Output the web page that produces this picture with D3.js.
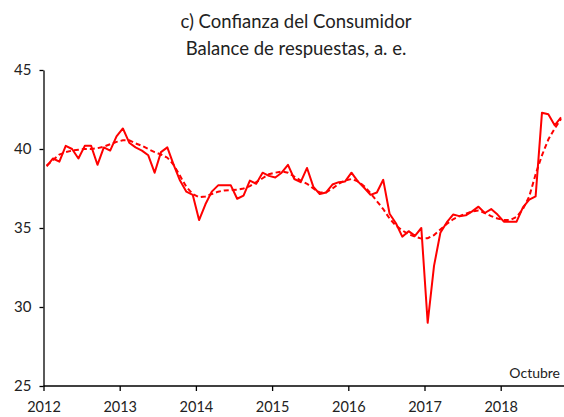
<!DOCTYPE html>
<html>
<head>
  <script src="https://d3js.org/d3.v7.min.js"></script>
  <style>
    body { margin: 0; background: #fff; }
    text { font-family: Lato, "Open Sans", sans-serif; fill: #222; }
  </style>
</head>
<body>
<script type="text/javascript">
  var w = 564;
  var h = 417;

  // data: monthly, Jan 2012 - Oct 2018
  var startYear = 2012;
  var years = [2012, 2013, 2014, 2015, 2016, 2017, 2018];
  var yTicks = [25, 30, 35, 40, 45];
  var endLabel = "Octubre";
  var titleLines = ["c) Confianza del Consumidor", "Balance de respuestas, a. e."];

  var observed = [
    38.9, 39.4, 39.2, 40.2, 40.0, 39.4, 40.2, 40.2, 39.0, 40.1, 39.9, 40.8,
    41.3, 40.4, 40.1, 39.9, 39.6, 38.5, 39.8, 40.1, 39.0, 38.0, 37.3, 37.1,
    35.5, 36.5, 37.3, 37.7, 37.7, 37.7, 36.85, 37.05, 38.0, 37.8, 38.5, 38.3,
    38.2, 38.5, 39.0, 38.1, 37.9, 38.8, 37.6, 37.15, 37.25, 37.75, 37.9, 37.95,
    38.5, 37.95, 37.55, 37.1, 37.25, 38.05, 35.9, 35.3, 34.45, 34.8, 34.5, 35.0,
    29.0, 32.6, 34.7, 35.35, 35.85, 35.75, 35.8, 36.05, 36.35, 35.95, 36.2, 35.85,
    35.4, 35.4, 35.4, 36.3, 36.8, 37.0, 42.3, 42.2, 41.5, 42.0
  ];

  var trend = [
    38.95, 39.3, 39.65, 39.8, 39.9, 39.95, 40.0, 40.0, 40.05, 40.15, 40.3, 40.45,
    40.55, 40.55, 40.35, 40.2, 40.0, 39.8, 39.65, 39.45, 39.0, 38.3, 37.6, 37.15,
    36.95, 37.0, 37.15, 37.3, 37.38, 37.4, 37.43, 37.5, 37.65, 37.9, 38.15, 38.4,
    38.5, 38.58, 38.5, 38.25, 38.0, 37.8, 37.5, 37.25, 37.25, 37.5, 37.8, 38.0,
    38.1, 37.95, 37.65, 37.2, 36.7, 36.2, 35.6, 35.15, 34.85, 34.6, 34.45, 34.33,
    34.35, 34.55, 34.9, 35.25, 35.55, 35.75, 35.9, 36.05, 36.1, 35.95, 35.75, 35.6,
    35.5, 35.5, 35.7, 36.2, 37.0, 38.4, 39.6, 40.6, 41.3, 41.9
  ];

  var plotLeft = 43.5, plotRight = 564, plotTop = 70, plotBottom = 386;

  var svg = d3.select("body").append("svg")
    .attr("width", w)
    .attr("height", h);

  // each month is a category; points sit in the middle of their slot
  var n = observed.length;
  var xScale = d3.scaleLinear()
    .domain([0, n])
    .range([plotLeft, plotLeft + n * 6.35]);

  var yearScale = d3.scaleLinear()
    .domain([startYear, startYear + 1])
    .range([xScale(0), xScale(12)]);

  var yScale = d3.scaleLinear()
    .domain([25, 45])
    .range([plotBottom, plotTop]);

  // title
  svg.selectAll("text.title")
    .data(titleLines)
    .enter()
    .append("text")
    .attr("class", "title")
    .attr("x", 296)
    .attr("y", function(d, i){ return 28 + i * 27; })
    .attr("text-anchor", "middle")
    .attr("font-size", "18.5px")
    .text(function(d){ return d; });

  // y axis
  var yAxis = svg.append("g")
    .attr("transform", "translate(" + plotLeft + ",0)")
    .call(d3.axisLeft(yScale).tickValues(yTicks).tickSize(4).tickSizeOuter(0).tickPadding(8));
  yAxis.select(".domain").attr("stroke", "#000").attr("stroke-width", 1.3);
  yAxis.selectAll(".tick line").attr("stroke", "#000").attr("stroke-width", 1.3);
  yAxis.selectAll("text").attr("font-size", "15px").attr("font-family", "Lato");

  // x axis
  var xAxis = svg.append("g")
    .attr("transform", "translate(0," + plotBottom + ")")
    .call(d3.axisBottom(yearScale).tickValues(years).tickFormat(d3.format("d")).tickSize(5).tickPadding(11));
  xAxis.select(".domain").remove();
  xAxis.selectAll(".tick line").attr("stroke", "#000").attr("stroke-width", 1.3);
  xAxis.selectAll("text").attr("font-size", "14.5px").attr("font-family", "Lato");
  xAxis.append("line")
    .attr("x1", plotLeft).attr("x2", plotRight)
    .attr("stroke", "#000").attr("stroke-width", 1.3);

  var line = d3.line()
    .x(function(d, i){ return xScale(i + 0.5); })
    .y(function(d){ return yScale(d); });

  svg.append("path")
    .datum(trend)
    .attr("d", line)
    .attr("fill", "none")
    .attr("stroke", "#ff0000")
    .attr("stroke-width", 2)
    .attr("stroke-dasharray", "5,3");

  svg.append("path")
    .datum(observed)
    .attr("d", line)
    .attr("fill", "none")
    .attr("stroke", "#ff0000")
    .attr("stroke-width", 2)
    .attr("stroke-linejoin", "round");

  svg.append("text")
    .attr("x", 560)
    .attr("y", 378)
    .attr("text-anchor", "end")
    .attr("font-size", "14px")
    .text(endLabel);
</script>
</body>
</html>
